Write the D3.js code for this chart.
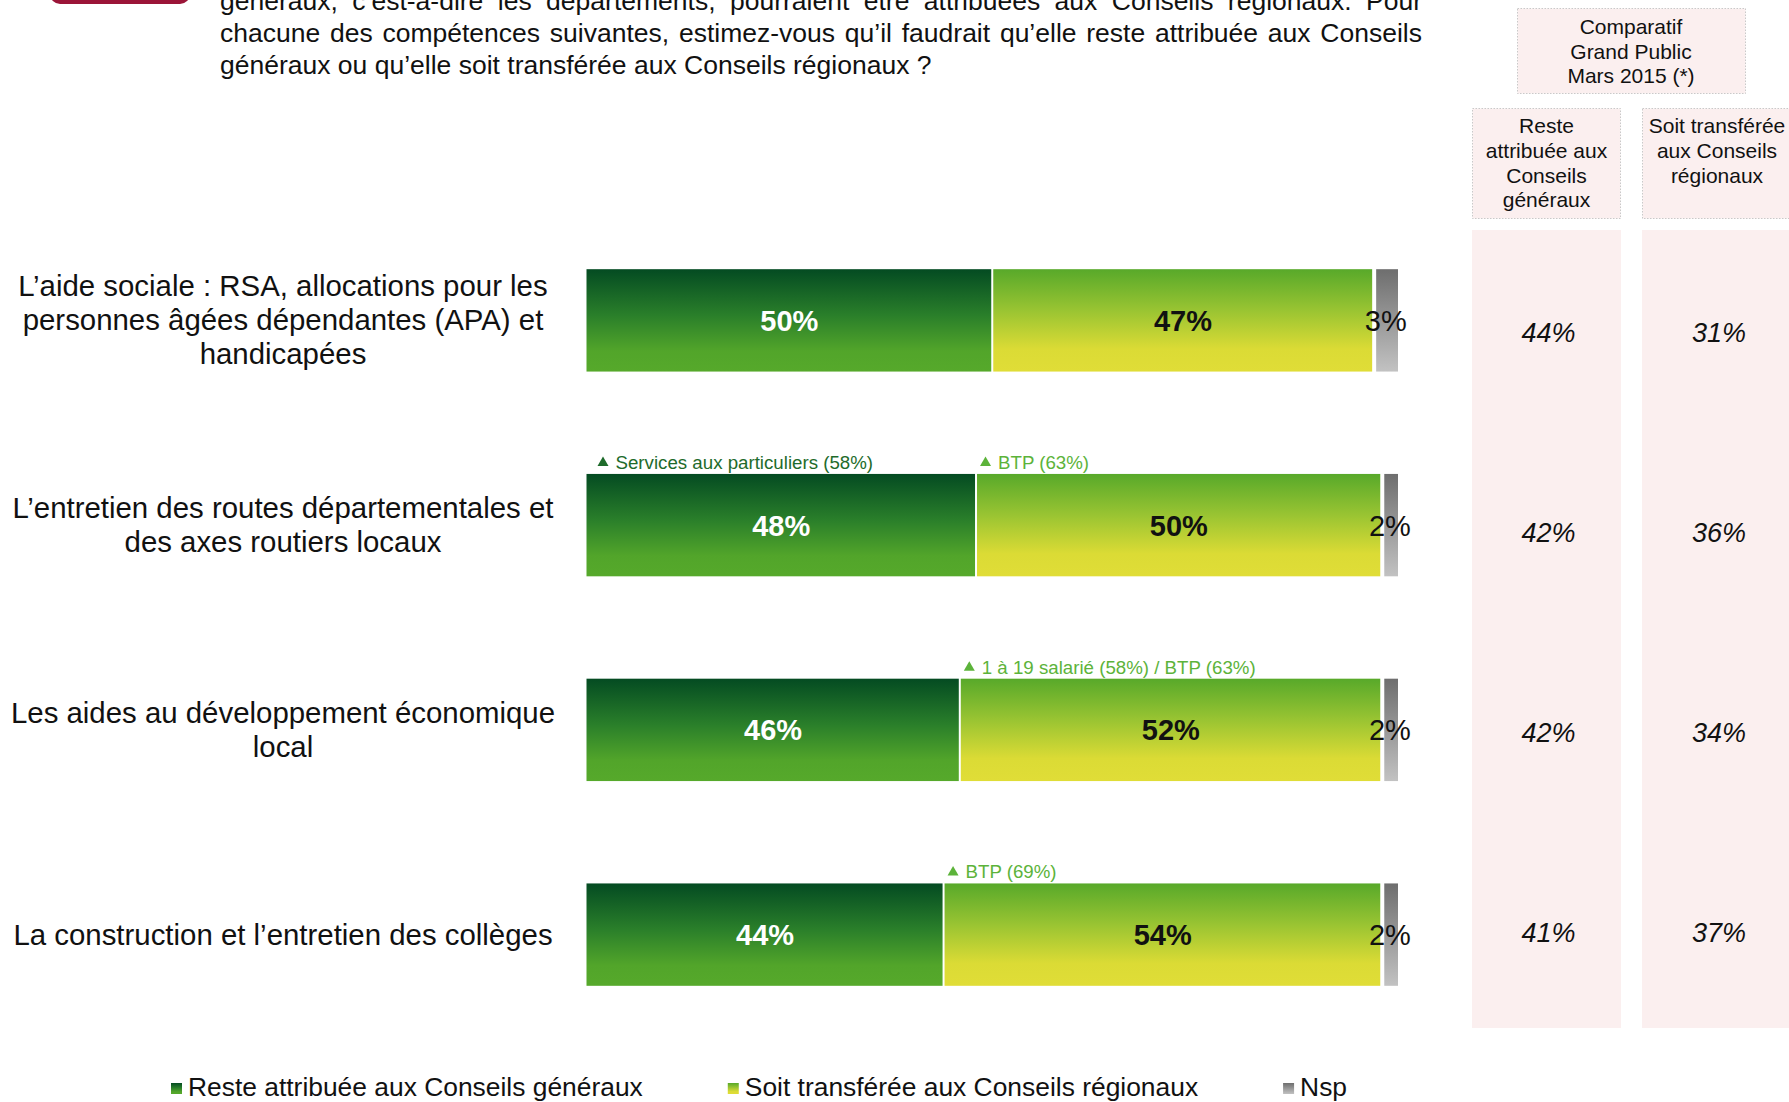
<!DOCTYPE html>
<html>
<head>
<meta charset="utf-8">
<script src="https://cdn.jsdelivr.net/npm/d3@7"></script>
<style>
  body { margin: 0; background: #fff; }
  svg { display: block; }
  text { font-family: "Liberation Sans", Arial, sans-serif; }
</style>
</head>
<body>
<svg id="chart" width="1789" height="1102"></svg>
<script>
// ---- Data ----
const questionLines = [
  "généraux, c’est-à-dire les départements, pourraient être attribuées aux Conseils régionaux. Pour",
  "chacune des compétences suivantes, estimez-vous qu’il faudrait qu’elle reste attribuée aux Conseils",
  "généraux ou qu’elle soit transférée aux Conseils régionaux ?"
];

const categories = [
  ["L’aide sociale : RSA, allocations pour les", "personnes âgées dépendantes (APA) et", "handicapées"],
  ["L’entretien des routes départementales et", "des axes routiers locaux"],
  ["Les aides au développement économique", "local"],
  ["La construction et l’entretien des collèges"]
];

const seriesNames = ["Reste attribuée aux Conseils généraux", "Soit transférée aux Conseils régionaux", "Nsp"];
const resteValues = [50, 48, 46, 44];
const transfereeValues = [47, 50, 52, 54];
const nspValues = [3, 2, 2, 2];

const resteNotes = ["", "Services aux particuliers (58%)", "", ""];
const transfereeNotes = ["", "BTP (63%)", "1 à 19 salarié (58%) / BTP (63%)", "BTP (69%)"];

const compareTitle = ["Comparatif", "Grand Public", "Mars 2015 (*)"];
const compareHeaders = [["Reste", "attribuée aux", "Conseils", "généraux"], ["Soit transférée", "aux Conseils", "régionaux"]];
const compareReste = [44, 42, 42, 41];
const compareTransferee = [31, 36, 34, 37];

// ---- Setup ----
const svg = d3.select("#chart");
const defs = svg.append("defs");

function vGradient(id, stops) {
  const g = defs.append("linearGradient").attr("id", id)
    .attr("x1", 0).attr("y1", 0).attr("x2", 0).attr("y2", 1);
  stops.forEach(([o, c]) => g.append("stop").attr("offset", o).attr("stop-color", c));
}
vGradient("gReste", [[0, "#044b22"], [0.45, "#2a7f2a"], [0.8, "#52a52a"], [1, "#56a92b"]]);
vGradient("gTransf", [[0, "#58a92a"], [0.4, "#99c432"], [0.78, "#dbdb35"], [1, "#e0dd37"]]);
vGradient("gNsp", [[0, "#6e6e6e"], [1, "#c2c2c2"]]);
const fills = ["url(#gReste)", "url(#gTransf)", "url(#gNsp)"];

// Dark-red tab at the top left
svg.append("rect").attr("x", 50).attr("y", -40).attr("width", 140).attr("height", 44)
  .attr("rx", 10).attr("fill", "#9b1538");

// ---- Question text (justified) ----
const qLeft = 220, qWidth = 1202, qSize = 26.5;
questionLines.forEach((line, i) => {
  const t = svg.append("text").attr("x", qLeft).attr("y", 9.5 + i * 32)
    .attr("font-size", qSize).attr("fill", "#111").text(line);
  if (i < questionLines.length - 1) {
    const natural = t.node().getComputedTextLength();
    const spaces = (line.match(/ /g) || []).length;
    t.style("word-spacing", ((qWidth - natural) / spaces) + "px");
  }
});

// ---- Scales ----
const x = d3.scaleLinear().domain([0, 100]).range([586.5, 1398]);
const y = d3.scaleBand().domain(d3.range(categories.length))
  .range([218, 1037]).paddingInner(0.5).paddingOuter(0.25);

const rows = categories.map((c, i) => ({
  i, lines: c,
  values: [resteValues[i], transfereeValues[i], nspValues[i]],
  notes: [resteNotes[i], transfereeNotes[i], ""]
}));

// ---- Category labels ----
const labelX = 283, labelSize = 29.4, labelLead = 34;
rows.forEach(r => {
  const cy = y(r.i) + y.bandwidth() / 2;
  const n = r.lines.length;
  r.lines.forEach((ln, k) => {
    svg.append("text").attr("x", labelX)
      .attr("y", cy + (k - (n - 1) / 2) * labelLead + 10)
      .attr("text-anchor", "middle").attr("font-size", labelSize).attr("fill", "#111")
      .text(ln);
  });
});

// ---- Stacked bars ----
const stacked = rows.map(r => {
  let acc = 0;
  return r.values.map((v, s) => {
    const seg = { row: r.i, s, v, x0: acc, x1: acc + v, note: r.notes[s] };
    acc += v;
    return seg;
  });
});

const barG = svg.append("g");
stacked.forEach(segs => {
  const g = barG.append("g");
  g.selectAll("rect").data(segs).join("rect")
    .attr("x", d => x(d.x0) + (d.s === 0 ? 0 : (d.s === 2 ? 2.5 : 1)))
    .attr("y", d => y(d.row))
    .attr("width", d => x(d.x1) - x(d.x0) - (d.s === 0 ? 1 : 2.5))
    .attr("height", y.bandwidth())
    .attr("fill", d => fills[d.s]);

  g.selectAll("text.val").data(segs).join("text").attr("class", "val")
    .attr("x", d => (x(d.x0) + x(d.x1)) / 2)
    .attr("y", d => y(d.row) + y.bandwidth() / 2 + 10.5)
    .attr("text-anchor", "middle")
    .attr("font-size", 29)
    .attr("font-weight", d => d.s === 2 ? "normal" : "bold")
    .attr("fill", d => d.s === 0 ? "#fff" : "#111")
    .text(d => d.v + "%");

  // Significant sub-group notes above segments
  const noteColors = ["#1e6b2b", "#5cb33a"];
  segs.filter(d => d.note).forEach(d => {
    const nx = x(d.x0) + (d.s === 0 ? 11 : 4), ny = y(d.row) - 5;
    g.append("path")
      .attr("d", `M${nx},${ny - 3} l5.5,-9.5 l5.5,9.5 z`)
      .attr("fill", noteColors[d.s]);
    g.append("text").attr("x", nx + 18).attr("y", ny)
      .attr("font-size", 18.7).attr("fill", noteColors[d.s]).text(d.note);
  });
});

// ---- Comparison panel ----
const pink = "#fbefef";
const col = [{ x: 1472, w: 149 }, { x: 1642, w: 150 }];
// Header "Comparatif"
svg.append("rect").attr("x", 1517.5).attr("y", 8.5).attr("width", 228).attr("height", 85)
  .attr("fill", pink).attr("stroke", "#c9c9c9").attr("stroke-dasharray", "1.5,1.5");
compareTitle.forEach((t, k) => {
  svg.append("text").attr("x", 1631).attr("y", 34 + k * 24.5)
    .attr("text-anchor", "middle").attr("font-size", 21).attr("fill", "#111").text(t);
});
// Sub-headers
compareHeaders.forEach((lines, c) => {
  svg.append("rect").attr("x", col[c].x + 0.5).attr("y", 108.5).attr("width", col[c].w - 1).attr("height", 110)
    .attr("fill", pink).attr("stroke", "#c9c9c9").attr("stroke-dasharray", "1.5,1.5");
  lines.forEach((t, k) => {
    svg.append("text").attr("x", col[c].x + col[c].w / 2).attr("y", 133 + k * 24.8)
      .attr("text-anchor", "middle").attr("font-size", 21).attr("fill", "#111").text(t);
  });
});
// Column backgrounds and values
const yc = d3.scaleBand().domain(d3.range(categories.length)).range([232, 1032]);
[compareReste, compareTransferee].forEach((vals, c) => {
  svg.append("rect").attr("x", col[c].x).attr("y", 230).attr("width", col[c].w).attr("height", 798)
    .attr("fill", pink);
  svg.append("g").selectAll("text").data(vals).join("text")
    .attr("x", col[c].x + col[c].w / 2 + 2)
    .attr("y", (d, i) => yc(i) + yc.bandwidth() / 2 + 9.5)
    .attr("text-anchor", "middle").attr("font-size", 27).attr("font-style", "italic")
    .attr("fill", "#111").text(d => d + "%");
});

// ---- Legend ----
const legend = svg.append("g");
let lx = 171;
seriesNames.forEach((name, s) => {
  legend.append("rect").attr("x", lx).attr("y", 1083).attr("width", 11).attr("height", 11)
    .attr("fill", fills[s]);
  const t = legend.append("text").attr("x", lx + 17).attr("y", 1096)
    .attr("font-size", 26.4).attr("fill", "#111").text(name);
  lx += 17 + t.node().getComputedTextLength() + 85;
});
</script>
</body>
</html>
